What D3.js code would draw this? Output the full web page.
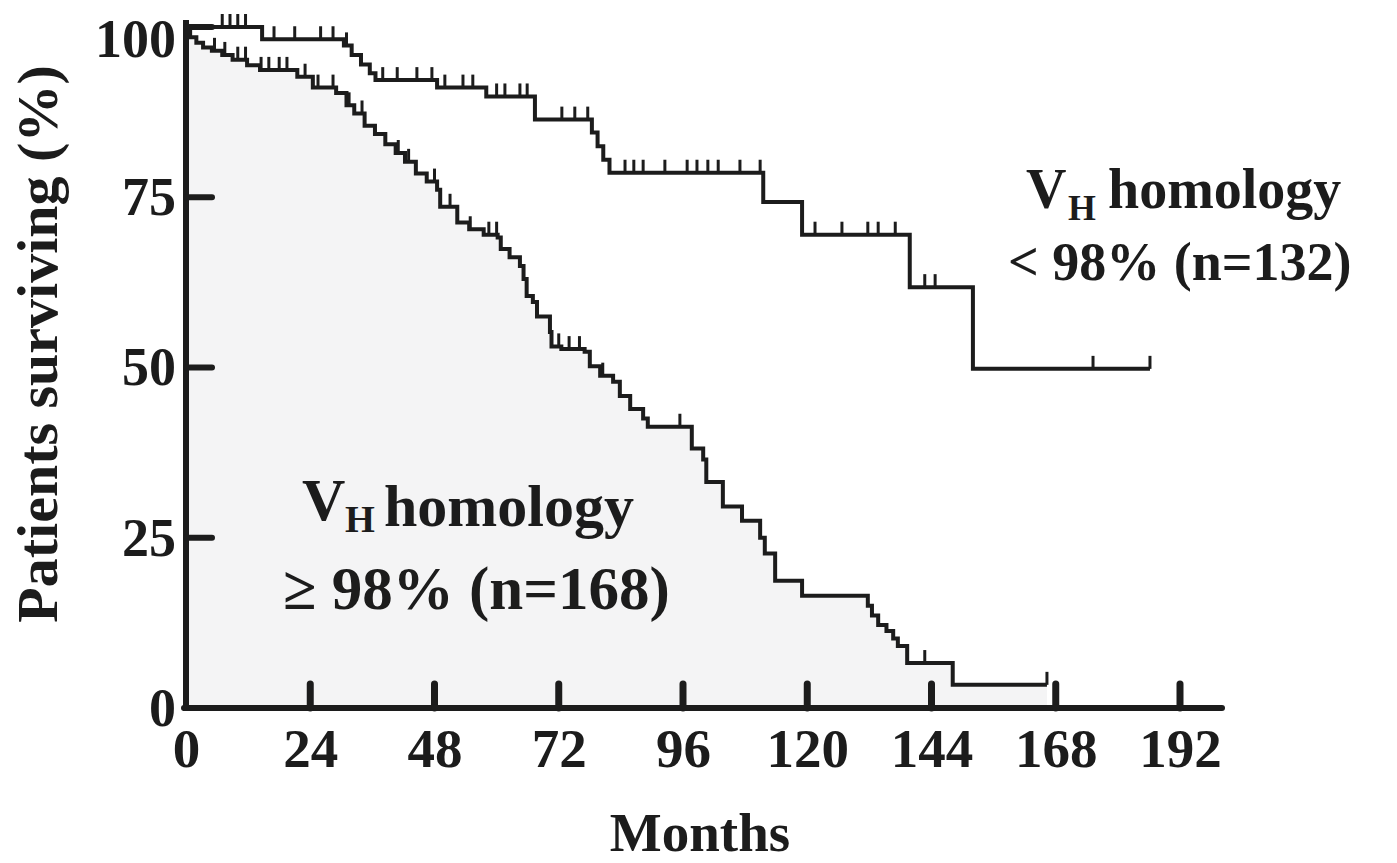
<!DOCTYPE html>
<html>
<head>
<meta charset="utf-8">
<script src="https://cdn.jsdelivr.net/npm/d3@7/dist/d3.min.js"></script>
<style>
  html, body { margin: 0; padding: 0; background: #ffffff; }
  svg { display: block; }
  text { font-family: "Liberation Serif", "Times New Roman", serif; font-weight: bold; fill: #1c1c1c; }
</style>
</head>
<body>
<svg id="chart" width="1397" height="863"></svg>
<script>
// ---- Data ----
const xTicks = [0, 24, 48, 72, 96, 120, 144, 168, 192];
const yTicks = [0, 25, 50, 75, 100];

// V_H homology < 98% (n=132): step times (months) and survival (%)
const lowHomTimes = [0, 14.7, 30.5, 32.0, 33.8, 35.5, 36.6, 48.5, 58.0, 67.4, 78.4, 79.5, 80.6, 81.8, 111.5, 119.0, 139.8, 152.0, 186.2];
const lowHomSurv  = [100, 98.2, 97.3, 95.9, 94.5, 93.2, 92.2, 91.1, 89.8, 86.4, 84.5, 82.5, 80.5, 78.6, 74.3, 69.5, 61.8, 49.8, 49.8];
const lowHomCensor = [7.0, 8.5, 10.0, 11.5, 17.0, 21.0, 26.0, 28.4, 31.0, 38.0, 40.8, 44.6, 47.5, 50.0, 53.5, 55.4, 60.0, 61.6, 64.5, 65.9, 72.6, 75.1, 77.6, 84.8, 86.5, 88.3, 92.5, 96.8, 98.7, 100.8, 102.8, 107.0, 110.9, 121.5, 126.7, 131.7, 133.7, 137.0, 142.7, 144.7, 175.2, 186.2];

// V_H homology >= 98% (n=168)
const highHomTimes = [0, 0.8, 2.0, 3.3, 5.0, 7.0, 9.0, 11.8, 14.3, 21.5, 24.5, 29.0, 31.0, 32.5, 34.5, 36.5, 38.5, 40.5, 42.3, 44.4, 46.5, 48.5, 49.1, 52.4, 54.7, 57.5, 60.2, 60.8, 62.5, 64.5, 65.2, 65.8, 67.0, 67.8, 70.3, 70.6, 72.5, 77.0, 78.0, 80.0, 82.5, 83.8, 85.8, 88.3, 89.2, 97.7, 99.9, 100.5, 103.7, 107.4, 110.9, 111.8, 113.8, 119.0, 131.7, 132.5, 133.7, 135.3, 136.6, 137.5, 139.3, 148.1, 166.3];
const highHomSurv  = [100, 98.5, 97.7, 97.0, 96.5, 95.9, 95.2, 94.4, 93.7, 92.7, 91.1, 90.3, 88.5, 87.3, 85.5, 84.3, 82.8, 81.5, 80.2, 78.5, 77.3, 76.1, 73.6, 71.3, 70.3, 69.5, 69.1, 67.4, 66.2, 64.9, 63.0, 60.5, 59.6, 57.5, 55.2, 53.1, 52.7, 52.3, 50.2, 48.8, 47.9, 45.8, 43.9, 42.5, 41.3, 38.1, 36.5, 33.2, 29.6, 27.5, 25.0, 22.7, 18.7, 16.5, 15.0, 13.6, 12.2, 11.3, 10.2, 9.1, 6.6, 3.4, 3.4];
const highHomCensor = [5.5, 7.5, 10.0, 11.5, 14.5, 16.0, 18.0, 19.5, 23.0, 25.5, 28.4, 31.5, 34.0, 41.0, 43.0, 48.0, 51.0, 54.9, 58.5, 60.0, 72.0, 74.0, 76.0, 80.5, 95.4, 142.7, 166.3];

// ---- Layout ----
const svg = d3.select("#chart");
const x = d3.scaleLinear().domain([0, 192]).range([186, 1180]);
const y = d3.scaleLinear().domain([0, 100]).range([708, 27]);
const ink = "#1c1c1c";
const serif = "Liberation Serif, Times New Roman, serif";

const toPts = (t, s) => t.map((d, i) => [d, s[i]]);
const survAt = (t, s, m) => { let v = s[0]; for (let i = 0; i < t.length; i++) { if (t[i] <= m) v = s[i]; } return v; };

const highPts = toPts(highHomTimes, highHomSurv);
const lowPts = toPts(lowHomTimes, lowHomSurv);

// fill under the >=98% curve
const area = d3.area().curve(d3.curveStepAfter)
  .x(d => x(d[0])).y0(y(0)).y1(d => y(d[1]));
svg.append("path").datum(highPts).attr("d", area).attr("fill", "#f4f4f5");

const line = d3.line().curve(d3.curveStepAfter).x(d => x(d[0])).y(d => y(d[1]));
svg.append("path").datum(highPts).attr("d", line)
  .attr("fill", "none").attr("stroke", ink).attr("stroke-width", 4);
svg.append("path").datum(lowPts).attr("d", line)
  .attr("fill", "none").attr("stroke", ink).attr("stroke-width", 4);

// censor marks
function censor(times, t, s) {
  svg.append("g").selectAll("line").data(times).join("line")
    .attr("x1", d => x(d)).attr("x2", d => x(d))
    .attr("y1", d => y(survAt(t, s, d)))
    .attr("y2", d => y(survAt(t, s, d)) - 13)
    .attr("stroke", ink).attr("stroke-width", 3);
}
censor(lowHomCensor, lowHomTimes, lowHomSurv);
censor(highHomCensor, highHomTimes, highHomSurv);

// ---- Axes ----
const xAxis = d3.axisBottom(x).tickValues(xTicks).tickSize(0).tickPadding(20).tickFormat(d3.format("d"));
const gx = svg.append("g").attr("transform", `translate(0,${y(0)})`).call(xAxis);
gx.select(".domain").remove();
gx.selectAll("text").attr("font-size", 55).attr("fill", ink)
  .attr("font-family", serif).attr("font-weight", "bold");

const yAxis = d3.axisLeft(y).tickValues(yTicks).tickSize(0).tickPadding(10).tickFormat(d3.format("d"));
const gy = svg.append("g").attr("transform", `translate(${x(0)},0)`).call(yAxis);
gy.select(".domain").remove();
gy.selectAll("text").attr("font-size", 54).attr("fill", ink)
  .attr("font-family", serif).attr("font-weight", "bold")
  .attr("dy", d => d === 100 ? "0.55em" : "0.32em");

// axis lines
svg.append("line").attr("x1", x(0) - 2).attr("x2", 1222).attr("y1", y(0)).attr("y2", y(0))
  .attr("stroke", ink).attr("stroke-width", 6).attr("stroke-linecap", "round");
svg.append("line").attr("x1", x(0)).attr("x2", x(0)).attr("y1", y(0) + 3).attr("y2", 20)
  .attr("stroke", ink).attr("stroke-width", 6);

// inner ticks
svg.append("g").selectAll("line").data(xTicks.filter(d => d > 0)).join("line")
  .attr("x1", d => x(d)).attr("x2", d => x(d)).attr("y1", y(0)).attr("y2", y(0) - 24)
  .attr("stroke", ink).attr("stroke-width", 7).attr("stroke-linecap", "round");
svg.append("g").selectAll("line").data(yTicks.filter(d => d > 0)).join("line")
  .attr("x1", x(0)).attr("x2", x(0) + 26).attr("y1", d => y(d)).attr("y2", d => y(d))
  .attr("stroke", ink).attr("stroke-width", 6).attr("stroke-linecap", "round");

// ---- Titles ----
svg.append("text").attr("x", 700).attr("y", 851).attr("text-anchor", "middle")
  .attr("font-size", 55).text("Months");
svg.append("text").attr("transform", "translate(57,344) rotate(-90)").attr("text-anchor", "middle")
  .attr("font-size", 58).text("Patients surviving (%)");

// ---- Group labels ----
function groupLabel(vx, base, size, hx, homX, homBase, line2X, line2, line2Base, size2) {
  svg.append("text").attr("x", vx).attr("y", base).attr("font-size", size).text("V");
  svg.append("text").attr("x", hx).attr("y", base + 12).attr("font-size", size * 0.64).text("H");
  svg.append("text").attr("x", homX).attr("y", homBase).attr("font-size", size).text("homology");
  svg.append("text").attr("x", line2X).attr("y", line2Base).attr("font-size", size2)
    .attr("xml:space", "preserve").text(line2);
}
groupLabel(1026, 208, 56, 1068, 1108, 208, 1008, "< 98% (n=132)", 280, 54);
groupLabel(302, 520, 60, 345, 384, 526, 283, "\u2265 98% (n=168)", 609, 61);
</script>
</body>
</html>
